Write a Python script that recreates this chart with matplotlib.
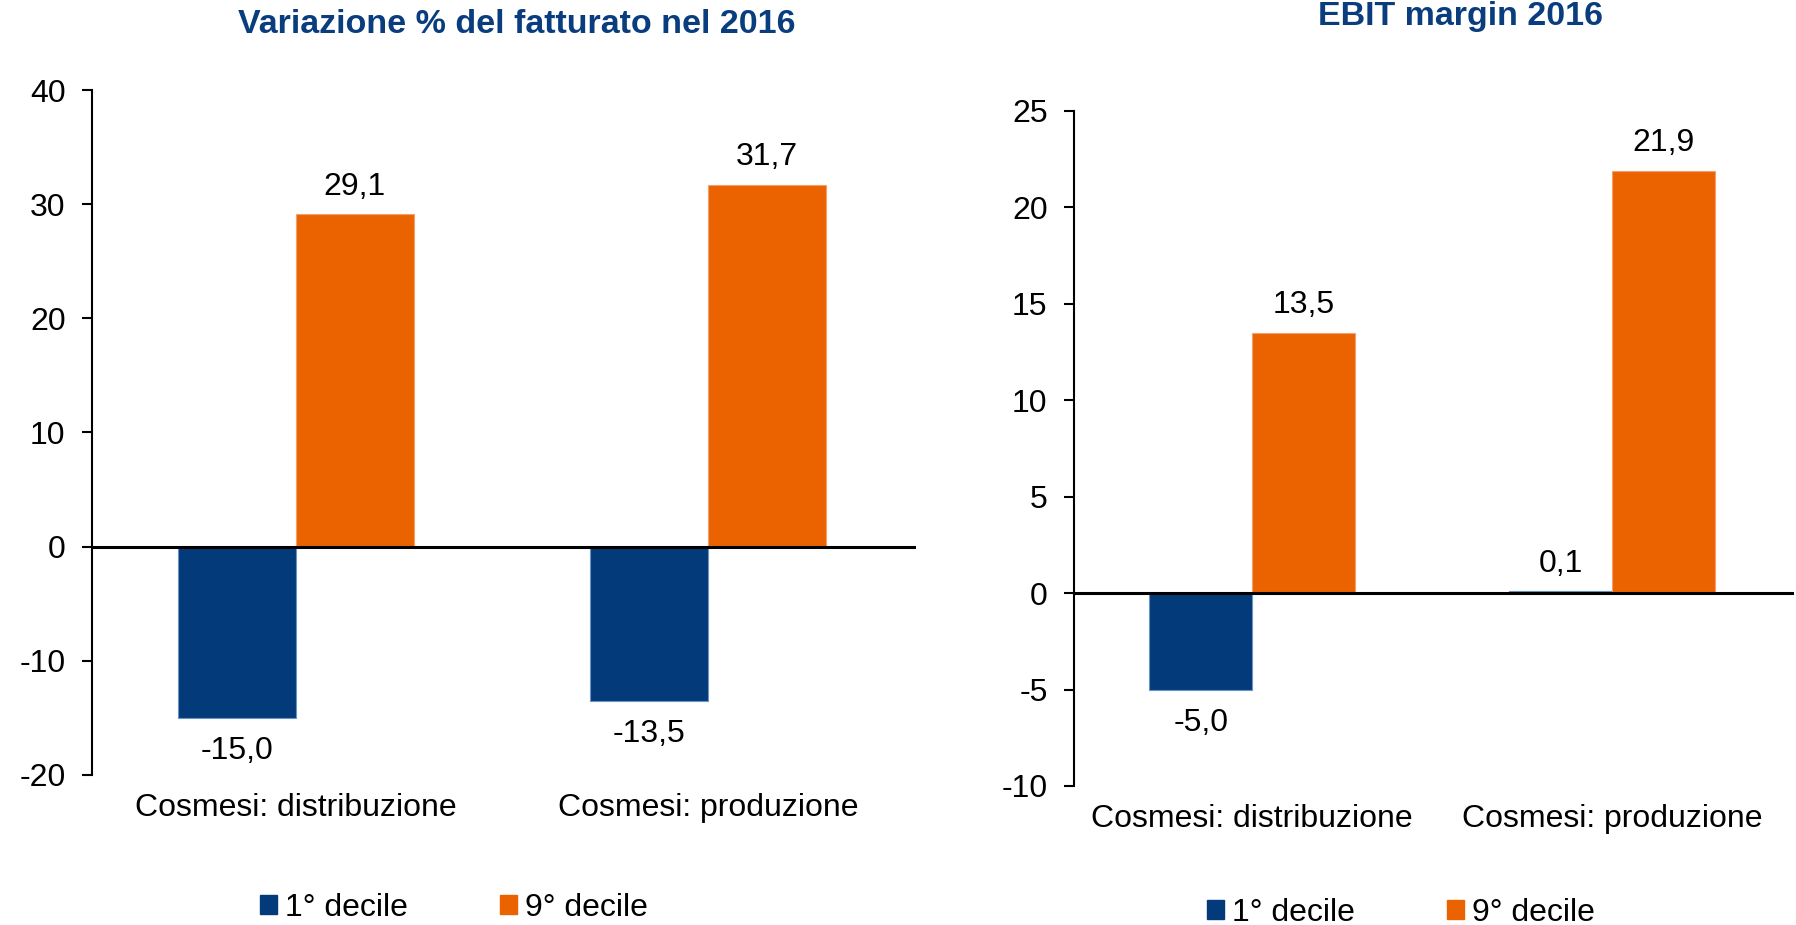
import matplotlib
matplotlib.use('Agg')
import matplotlib.pyplot as plt
import numpy as np
from matplotlib.patches import Patch
from matplotlib.ticker import FuncFormatter

plt.rcParams['font.family'] = ['Liberation Sans', 'DejaVu Sans']
plt.rcParams['axes.unicode_minus'] = False

# dati
categorie = ['Cosmesi: distribuzione', 'Cosmesi: produzione']
serie = ['1° decile', '9° decile']
fatturato_1 = [-15.0, -13.5]
fatturato_9 = [29.1, 31.7]
ebit_1 = [-5.0, 0.1]
ebit_9 = [13.5, 21.9]

blu = '#033B7A'
arancio = '#EB6300'
titolo_col = '#0A3D7E'
fs = 23

fig = plt.figure(figsize=(17.96, 9.25), dpi=100)
ax1 = fig.add_axes([0.0512, 0.1622, 0.459, 0.7405])
ax2 = fig.add_axes([0.598, 0.1503, 0.401, 0.7297])


def fmt(v):
    return f'{v:.1f}'.replace('.', ',')


def pannello(ax, v1, v9, ylim, step):
    x = np.arange(len(categorie))
    w = 0.286
    b1 = ax.bar(x - w / 2, v1, w, color=blu, edgecolor='#6C93C4', linewidth=0.8, zorder=2)
    b9 = ax.bar(x + w / 2, v9, w, color=arancio, edgecolor='#F2A070', linewidth=0.8, zorder=2)
    for bc, vals in ((b1, v1), (b9, v9)):
        # etichette sotto le barre negative un po' più staccate
        ax.bar_label(bc, labels=[fmt(v) if v >= 0 else '' for v in vals], padding=9, fontsize=fs)
        ax.bar_label(bc, labels=[fmt(v) if v < 0 else '' for v in vals], padding=13, fontsize=fs)
    ax.axhline(0, color='black', lw=2.2, zorder=3)
    ax.set_xlim(-0.495, 1.505)
    ax.set_ylim(*ylim)
    ax.set_yticks(np.arange(ylim[0], ylim[1] + 1, step))
    ax.yaxis.set_major_formatter(FuncFormatter(lambda v, p: f'{int(v)}'))
    ax.set_xticks(x)
    ax.set_xticklabels(categorie)
    for s in ('top', 'right', 'bottom'):
        ax.spines[s].set_visible(False)
    ax.spines['left'].set_linewidth(1.5)
    ax.tick_params(axis='y', length=7, width=1.5, pad=12, labelsize=fs)
    ax.tick_params(axis='x', length=0, pad=13, labelsize=fs)


pannello(ax1, fatturato_1, fatturato_9, (-20, 40), 10)
pannello(ax2, ebit_1, ebit_9, (-10, 25), 5)

fig.text(0.288, 0.973, 'Variazione % del fatturato nel 2016', ha='center', va='center',
         fontsize=24.5, fontweight='bold', color=titolo_col)
fig.text(0.813, 0.982, 'EBIT margin 2016', ha='center', va='center',
         fontsize=24.5, fontweight='bold', color=titolo_col)

handles = [Patch(color=blu), Patch(color=arancio)]
for bx, by in ((0.2528, 0.0184), (0.780, 0.013)):
    fig.legend(handles, serie, loc='center', bbox_to_anchor=(bx, by), ncol=2,
               frameon=False, fontsize=fs, handlelength=0.53, handleheight=0.53,
               handletextpad=0.25, columnspacing=2.9, borderpad=0, borderaxespad=0)

fig.savefig('out.png', dpi=100)
